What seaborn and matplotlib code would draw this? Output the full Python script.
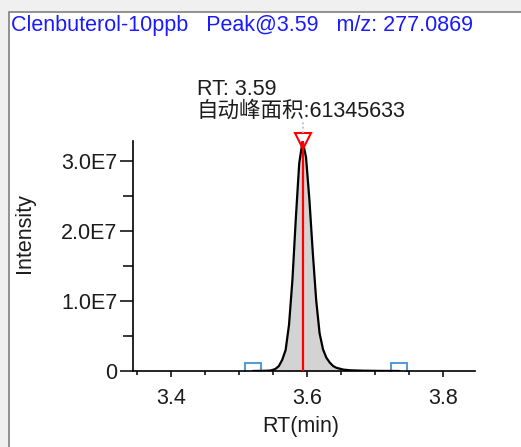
import matplotlib
matplotlib.use("Agg")
import matplotlib.pyplot as plt
from matplotlib.patches import Rectangle
from matplotlib.ticker import MultipleLocator, FuncFormatter
import seaborn as sns
import pandas as pd

# Extracted ion chromatogram of the peak
rt = [3.520, 3.535, 3.545, 3.548, 3.553, 3.558, 3.563, 3.568, 3.573, 3.578,
      3.583, 3.588, 3.593, 3.598, 3.603, 3.608, 3.613, 3.618, 3.623, 3.628,
      3.633, 3.638, 3.643, 3.653, 3.663, 3.683, 3.710, 3.735]
intensity_e7 = [0.0, 0.002, 0.006, 0.012, 0.03, 0.07, 0.16, 0.30, 0.66, 1.30,
                2.18, 2.97, 3.29, 3.06, 2.45, 1.69, 1.01, 0.54, 0.31, 0.19,
                0.12, 0.07, 0.045, 0.02, 0.01, 0.004, 0.001, 0.0]

peak_rt = 3.593
peak_height = 3.29e7
peak_area = 61345633
peak_start = 3.5206
peak_end = 3.7346

compound = "Clenbuterol-10ppb"
mz = "277.0869"

sns.set_style("ticks")
plt.rcParams["font.family"] = ["Liberation Sans", "Noto Sans CJK SC", "DejaVu Sans"]
FS = 15.5
TXT = "#1c1c1c"

df = pd.DataFrame({"RT": rt, "Intensity": [v * 1e7 for v in intensity_e7]})

fig = plt.figure(figsize=(5.21, 4.47), dpi=100)
fig.patch.set_facecolor("#f0f0f0")
panel = Rectangle((9 / 521, -0.05), 1.0, 1 - 12 / 447 + 0.05,
                  transform=fig.transFigure, facecolor="white",
                  edgecolor="#808080", linewidth=1.2, zorder=-10)
fig.patches.append(panel)

ax = fig.add_axes([133 / 521, 1 - 371 / 447, (475 - 133) / 521, (371 - 141) / 447])
ax.set_zorder(5)
ax.set_facecolor("none")

ax.fill_between(df["RT"], 0, df["Intensity"], color="#d3d3d3", zorder=1, linewidth=0)
sns.lineplot(data=df, x="RT", y="Intensity", ax=ax, color="black", linewidth=1.6,
             zorder=3)

# peak apex line and marker
ax.plot([peak_rt, peak_rt], [0, peak_height], color="red", linewidth=1.6, zorder=4)
ax.plot([peak_rt], [peak_height], marker="v", markersize=11, markerfacecolor="none",
        markeredgecolor="red", markeredgewidth=1.5, clip_on=False, zorder=5)
ax.plot([peak_rt, peak_rt], [3.41e7, 3.59e7], linestyle=":", color="#9fb4d8",
        linewidth=1.2, clip_on=False, zorder=5)

# integration boundaries
ax.plot([peak_start, peak_end], [0, 0], linestyle="none", marker="s", markersize=11,
        markerfacecolor="none", markeredgecolor="#5b9bd5", markeredgewidth=1.5,
        zorder=2)

ax.set_xlim(3.3434, 3.8467)
ax.set_ylim(0, peak_height)

ax.xaxis.set_major_locator(MultipleLocator(0.2))
ax.xaxis.set_minor_locator(MultipleLocator(0.05))
ax.yaxis.set_major_locator(MultipleLocator(1e7))
ax.yaxis.set_minor_locator(MultipleLocator(0.5e7))
ax.xaxis.set_major_formatter(FuncFormatter(lambda v, p: f"{v:.1f}"))
ax.yaxis.set_major_formatter(FuncFormatter(lambda v, p: "0" if v == 0 else f"{v/1e7:.1f}E7"))

for s in ["top", "right"]:
    ax.spines[s].set_visible(False)
for s in ["left", "bottom"]:
    ax.spines[s].set_color("black")
    ax.spines[s].set_linewidth(1.2)

ax.tick_params(axis="y", which="major", length=9.4, width=1.1, pad=2,
               labelsize=FS, color="black", labelcolor=TXT)
ax.tick_params(axis="y", which="minor", length=7, width=1.1, color="black")
ax.tick_params(axis="x", which="major", length=4.5, width=1.1, pad=7.5,
               labelsize=FS, color="black", labelcolor=TXT)
ax.tick_params(axis="x", which="minor", length=3, width=1.1, color="black")

ax.set_xlabel("RT(min)", fontsize=FS, color=TXT)
ax.set_ylabel("Intensity", fontsize=FS, color=TXT)
ax.xaxis.set_label_coords(0.49, -0.195)
ax.yaxis.set_label_coords(-0.2865, 0.6)

fig.text(11 / 521, 1 - 31 / 447,
         f"{compound}   Peak@{peak_rt:.2f}   m/z: {mz}",
         color="#1a1aff", fontsize=FS, ha="left", va="baseline")

fig.text(197 / 521, 1 - 95 / 447, f"RT: {peak_rt:.2f}", fontsize=FS,
         color=TXT, ha="left", va="baseline")
fig.text(197 / 521, 1 - 117 / 447, f"自动峰面积:{peak_area}", fontsize=FS,
         color=TXT, ha="left", va="baseline")

fig.savefig("out.png", dpi=100, facecolor=fig.get_facecolor())
